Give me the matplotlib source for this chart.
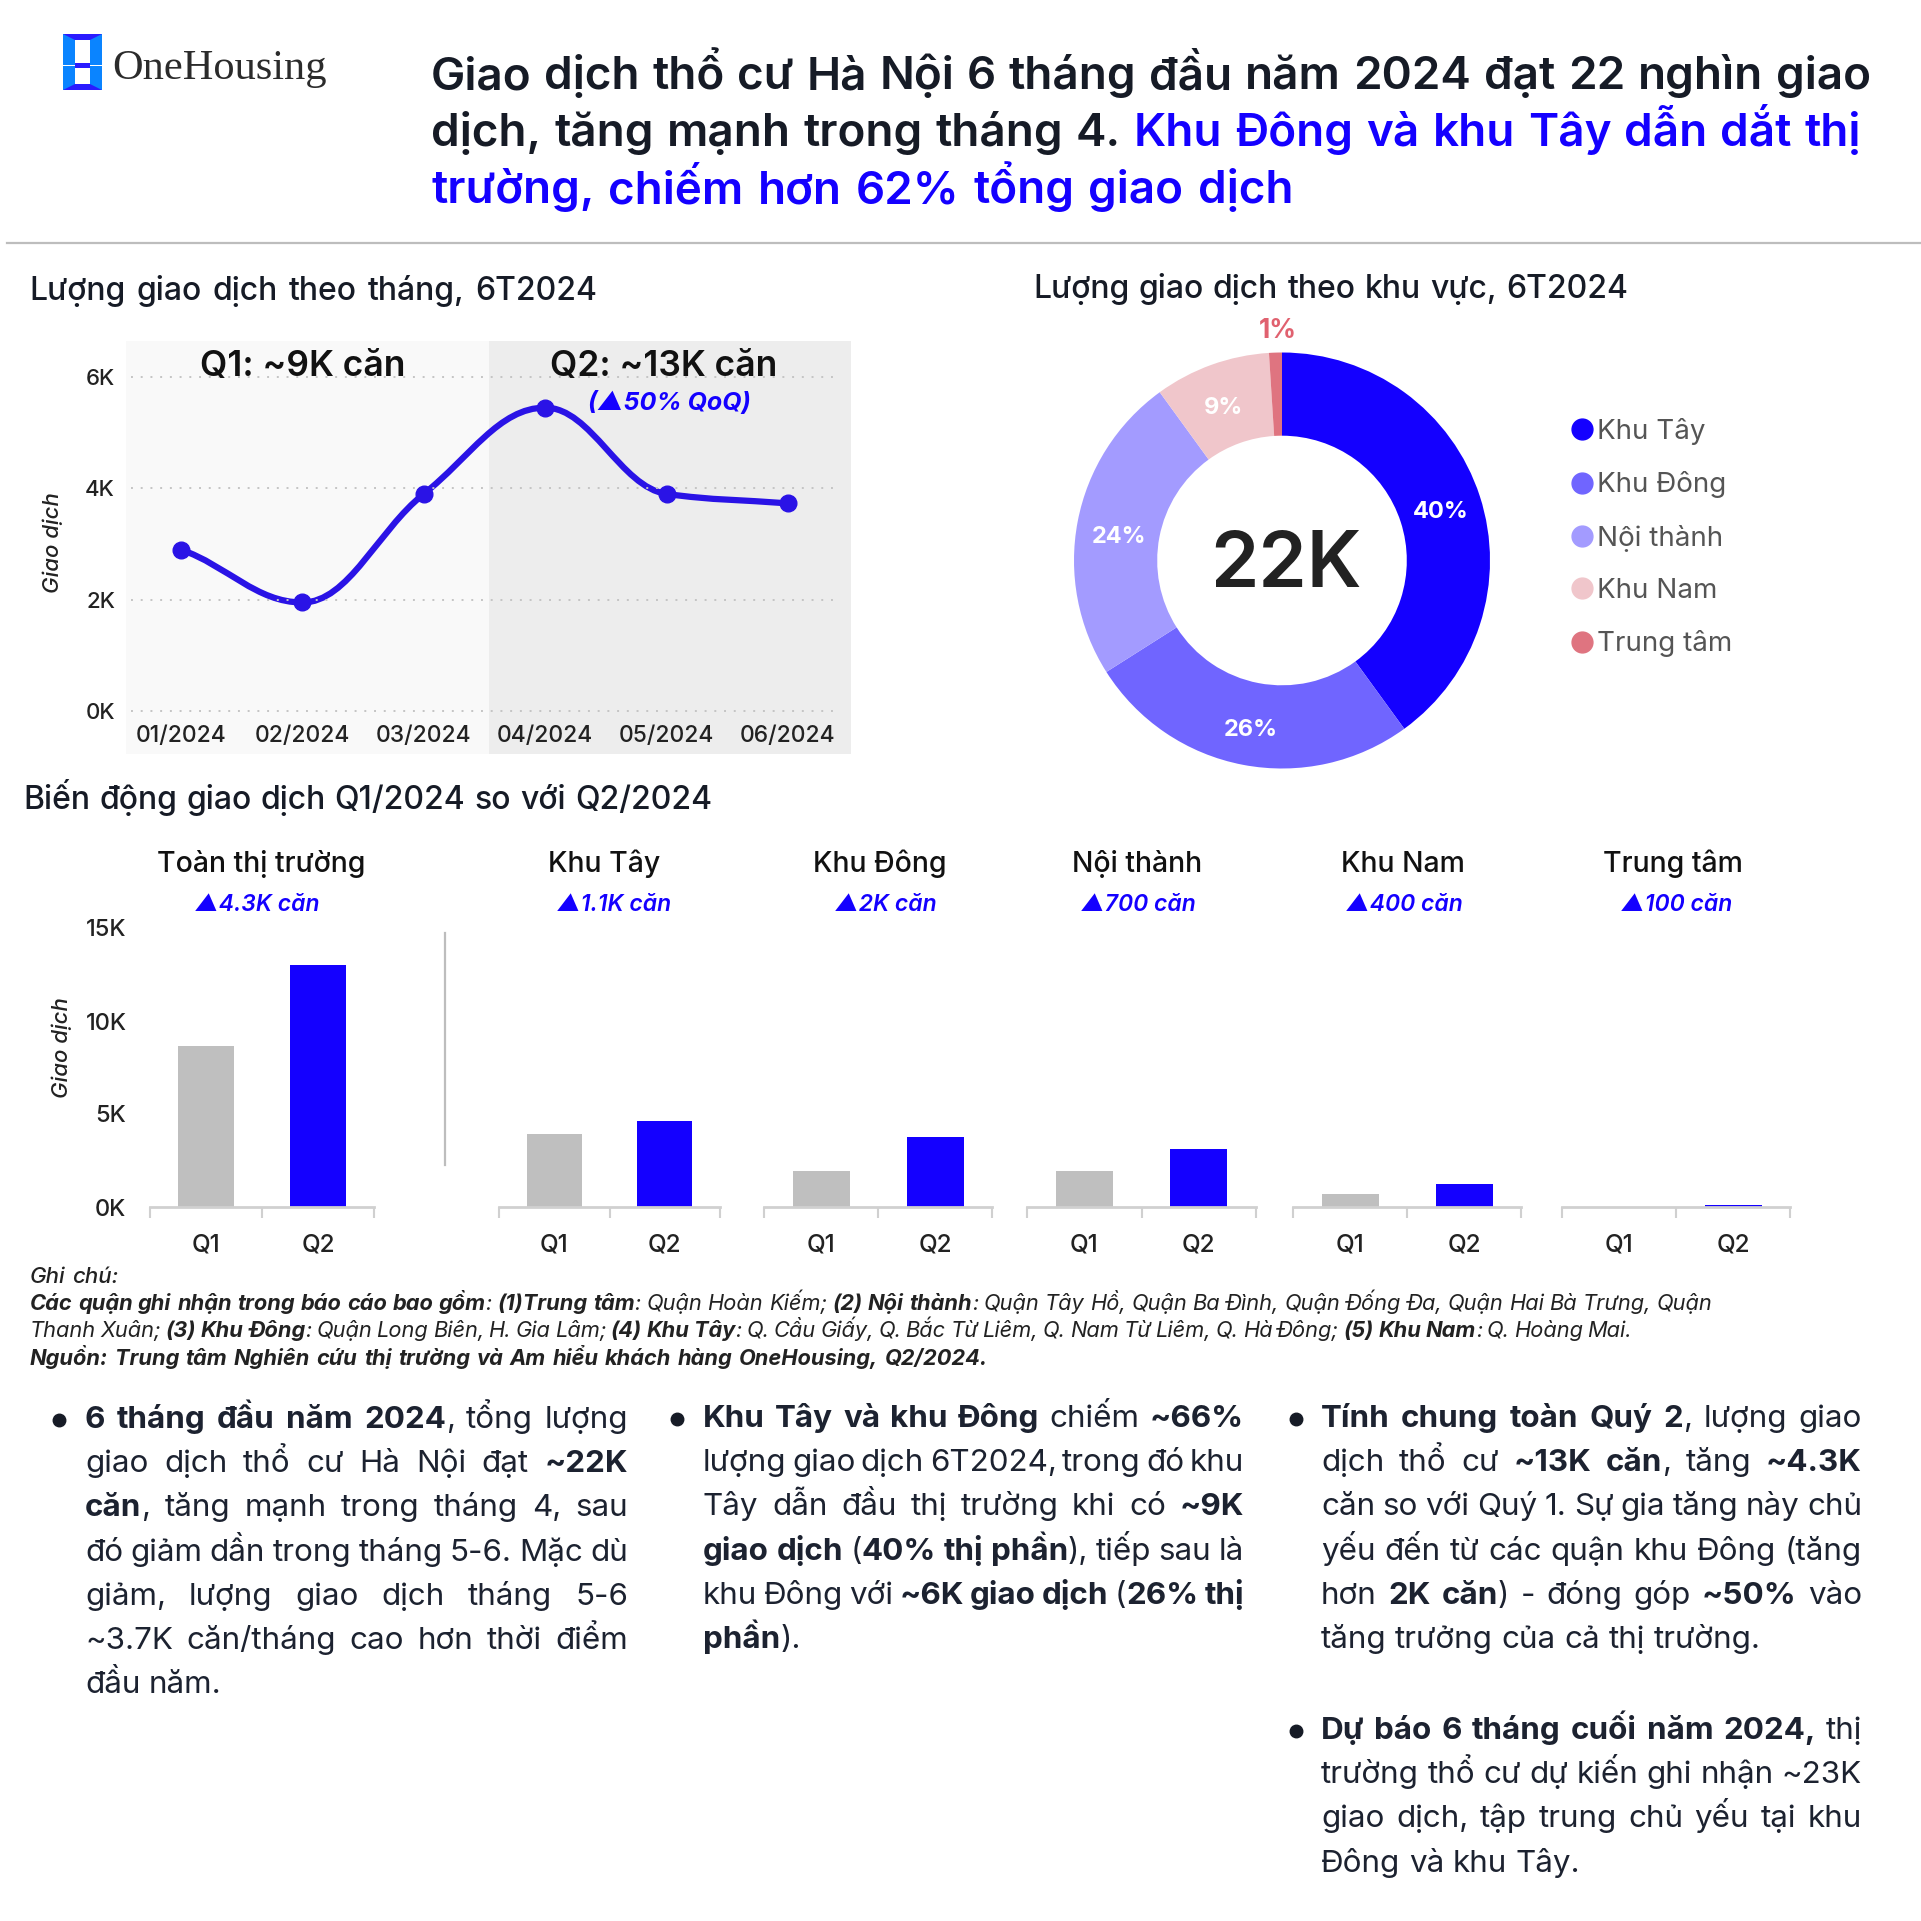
import matplotlib
matplotlib.use("Agg")
import matplotlib.pyplot as plt
from matplotlib.lines import Line2D
from matplotlib.patches import Polygon, Rectangle, PathPatch
from matplotlib.path import Path

FONT = ["Inter", "Noto Sans", "DejaVu Sans"]
plt.rcParams["font.family"] = FONT

INK = "#161b26"
BLUE = "#1400ff"
GREY_BAR = "#bfbfbf"

# data
months = ["01/2024", "02/2024", "03/2024", "04/2024", "05/2024", "06/2024"]
monthly = [2.9, 1.95, 3.9, 5.45, 3.9, 3.73]
month_ticks = [0, 2, 4, 6]

regions = ["Khu Tây", "Khu Đông", "Nội thành", "Khu Nam", "Trung tâm"]
region_share = [40, 26, 24, 9, 1]
region_colors = [BLUE, "#7065ff", "#a39bff", "#f0c6cb", "#df7480"]

groups = ["Toàn thị trường", "Khu Tây", "Khu Đông", "Nội thành", "Khu Nam", "Trung tâm"]
deltas = ["▲4.3K căn", "▲1.1K căn", "▲2K căn", "▲700 căn", "▲400 căn", "▲100 căn"]
q1_values = [8.65, 3.9, 1.95, 1.95, 0.7, 0.0]
q2_values = [13.0, 4.6, 3.75, 3.1, 1.25, 0.13]
bar_ticks = [0, 5, 10, 15]

title_lines = [
    "Giao dịch thổ cư Hà Nội 6 tháng đầu năm 2024 đạt 22 nghìn giao",
    "dịch, tăng mạnh trong tháng 4. **Khu Đông và khu Tây dẫn dắt thị**",
    "**trường, chiếm hơn 62% tổng giao dịch**",
]
note_lines = [
    "**Các quận ghi nhận trong báo cáo bao gồm**: **(1)Trung tâm**: Quận Hoàn Kiếm; **(2) Nội thành**: Quận Tây Hồ, Quận Ba Đình, Quận Đống Đa, Quận Hai Bà Trưng, Quận",
    "Thanh Xuân; **(3) Khu Đông**: Quận Long Biên, H. Gia Lâm; **(4) Khu Tây**: Q. Cầu Giấy, Q. Bắc Từ Liêm, Q. Nam Từ Liêm, Q. Hà Đông; **(5) Khu Nam**: Q. Hoàng Mai.",
    "**Nguồn: Trung tâm Nghiên cứu thị trường và Am hiểu khách hàng OneHousing, Q2/2024.**",
]
col1 = [
    "**6 tháng đầu năm 2024**, tổng lượng",
    "giao dịch thổ cư Hà Nội đạt **~22K**",
    "**căn**, tăng mạnh trong tháng 4, sau",
    "đó giảm dần trong tháng 5-6. Mặc dù",
    "giảm, lượng giao dịch tháng 5-6",
    "~3.7K căn/tháng cao hơn thời điểm",
    "đầu năm.",
]
col2 = [
    "**Khu Tây và khu Đông** chiếm **~66%**",
    "lượng giao dịch 6T2024, trong đó khu",
    "Tây dẫn đầu thị trường khi có **~9K**",
    "**giao dịch** (**40% thị phần**), tiếp sau là",
    "khu Đông với **~6K giao dịch** (**26% thị**",
    "**phần**).",
]
col3a = [
    "**Tính chung toàn Quý 2**, lượng giao",
    "dịch thổ cư **~13K căn**, tăng **~4.3K**",
    "căn so với Quý 1. Sự gia tăng này chủ",
    "yếu đến từ các quận khu Đông (tăng",
    "hơn **2K căn**) - đóng góp **~50%** vào",
    "tăng trưởng của cả thị trường.",
]
col3b = [
    "**Dự báo 6 tháng cuối năm 2024,** thị",
    "trường thổ cư dự kiến ghi nhận ~23K",
    "giao dịch, tập trung chủ yếu tại khu",
    "Đông và khu Tây.",
]

W = 1921
fig = plt.figure(figsize=(W / 100, W / 100), dpi=100, facecolor="white")


def px_axes(x0, y0, x1, y1):
    # axes from pixel box, y measured from the top
    return fig.add_axes([x0 / W, 1 - y1 / W, (x1 - x0) / W, (y1 - y0) / W])


# overlay in pixel coordinates for the text blocks
ov = px_axes(0, 0, W, W)
ov.set_xlim(0, W)
ov.set_ylim(W, 0)
ov.axis("off")
ov.set_zorder(5)
ov.patch.set_alpha(0)
renderer = fig.canvas.get_renderer()


def word_width(word, size, weight, style):
    t = ov.text(0, 0, word, fontsize=size, fontweight=weight, fontstyle=style)
    w = t.get_window_extent(renderer).width
    t.remove()
    return w


def put_line(x, y, line, size, width=None, color=INK, bold_color=None, reg="normal", bold="bold", style="normal"):
    # ** marks the bold runs, width stretches the spaces to reach that length
    items = []
    gap_next = False
    for i, part in enumerate(line.split("**")):
        is_bold = i % 2 == 1
        for j, word in enumerate(part.split(" ")):
            if j > 0:
                gap_next = True
            if word:
                w = word_width(word, size, bold if is_bold else reg, style)
                items.append((word, is_bold, gap_next, w))
                gap_next = False
    n_gaps = sum(1 for it in items if it[2])
    total = sum(it[3] for it in items)
    gap = size * 0.38
    if width is not None and n_gaps:
        gap = (width - total) / n_gaps
    cx = x
    for word, is_bold, has_gap, w in items:
        if has_gap:
            cx += gap
        ov.text(cx, y, word, fontsize=size, va="baseline", ha="left", fontstyle=style,
                fontweight=bold if is_bold else reg,
                color=(bold_color or color) if is_bold else color)
        cx += w


# header
ov.add_patch(Rectangle((63, 34), 39, 56, color="#0a84ff", lw=0))
ov.add_patch(Polygon([(63, 34), (102, 34), (90, 40), (75, 40)], color="#2a1bff", lw=0))
ov.add_patch(Polygon([(63, 90), (102, 90), (90, 84), (75, 84)], color="#2a1bff", lw=0))
ov.add_patch(Rectangle((75, 40), 15, 23, color="white", lw=0))
ov.add_patch(Rectangle((75, 68), 15, 16, color="white", lw=0))
ov.add_patch(Rectangle((63, 64.5), 39, 1.5, color="white", lw=0))
ov.add_patch(Rectangle((75, 63), 15, 5, color="#2a1bff", lw=0))
ov.text(112, 79, "OneHousing", fontsize=30.5, family="Liberation Serif", color="#2b2b2b", va="baseline")

title_widths = [1440, 1430, 862]
for line, tw, y in zip(title_lines, title_widths, [89, 146, 203]):
    put_line(431, y, line, 33, width=tw, bold_color=BLUE, reg="semibold", bold="semibold")
ov.plot([7, W], [243, 243], color="#bdbdbd", lw=1.6)

# section headings
put_line(29, 300, "Lượng giao dịch theo tháng, 6T2024", 23, width=568, reg="medium")
put_line(1033, 298, "Lượng giao dịch theo khu vực, 6T2024", 23, width=595, reg="medium")
put_line(23, 809, "Biến động giao dịch Q1/2024 so với Q2/2024", 23, width=689, reg="medium")

# monthly line, panel box 126..851 / 341..754
ax = px_axes(126, 341, 851, 754)
ax.set_xlim(-0.453, 5.519)
ax.set_ylim(-0.772, 6.647)
ax.axvspan(-0.453, 2.533, color="#f9f9f9", lw=0)
ax.axvspan(2.533, 5.519, color="#ededed", lw=0)
ax.hlines(month_ticks, -0.41, 5.37, color="#c4c4c4", lw=1.4, linestyles=(0, (1, 4)))
# smooth curve through the points, flat at peaks and no overshoot between them
xs = list(range(len(monthly)))
steps = [monthly[i + 1] - monthly[i] for i in range(len(xs) - 1)]
slopes = [steps[0] * 0.8]
for a, b in zip(steps[:-1], steps[1:]):
    slopes.append(0 if a * b <= 0 else 2 * a * b / (a + b))
slopes.append(steps[-1])
verts = [(xs[0], monthly[0])]
codes = [Path.MOVETO]
for i in range(len(xs) - 1):
    verts += [(xs[i] + 0.38, monthly[i] + slopes[i] * 0.38),
              (xs[i + 1] - 0.38, monthly[i + 1] - slopes[i + 1] * 0.38),
              (xs[i + 1], monthly[i + 1])]
    codes += [Path.CURVE4] * 3
ax.add_patch(PathPatch(Path(verts, codes), fill=False, ec="#2a13e6", lw=4.5, capstyle="round"))
ax.plot(xs, monthly, "o", color="#2a13e6", ms=12, zorder=4)
ax.set_xticks(xs)
ax.set_xticklabels(months, fontsize=16.5, fontweight="medium", color="#222222")
ax.set_yticks(month_ticks)
ax.set_yticklabels([f"{v}K" for v in month_ticks], fontsize=16, fontweight="medium", color="#222222")
ax.tick_params(axis="x", length=0, pad=-21)
ax.tick_params(axis="y", length=0, pad=8)
for s in ax.spines.values():
    s.set_visible(False)
ov.text(302.5, 366, "Q1: ~9K căn", fontsize=25.5, fontweight="semibold", ha="center", va="center", color="#111111")
ov.text(664, 366, "Q2: ~13K căn", fontsize=25.5, fontweight="semibold", ha="center", va="center", color="#111111")
ov.text(669, 403, "(▲50% QoQ)", fontsize=18, fontweight="bold", style="italic", ha="center", va="center", color=BLUE)
ov.text(53, 543, "Giao dịch", fontsize=16, style="italic", fontweight="medium", rotation=90, ha="center", va="center", color="#222222")

# donut
ax = px_axes(1282 - 208, 560.5 - 208, 1282 + 208, 560.5 + 208)
wedges, _, pcts = ax.pie(region_share, colors=region_colors, startangle=90, counterclock=False, radius=1.0,
                         wedgeprops={"width": 0.4, "linewidth": 0}, autopct="%.0f%%", pctdistance=0.8,
                         textprops={"fontsize": 17, "fontweight": "bold", "color": "white"})
ax.set_xlim(-1, 1)
ax.set_ylim(-1, 1)
pcts[0].set_position((pcts[0].get_position()[0], 0.235))
pcts[1].set_position((pcts[1].get_position()[0], -0.815))
pcts[2].set_position((pcts[2].get_position()[0], 0.115))
pcts[3].set_position((-0.28, 0.735))
pcts[4].set_position((-0.02, 1.105))
pcts[4].set_color("#e0616f")
pcts[4].set_fontsize(19)
ax.text(0.02, -0.03, "22K", fontsize=56, fontweight="semibold", color="#222222", ha="center", va="center")

handles = [Line2D([], [], marker="o", ls="", ms=15, color=c) for c in region_colors]
fig.legend(handles, regions, loc="upper left", bbox_to_anchor=(1546 / W, 1 - 404 / W), frameon=False, fontsize=20,
           labelspacing=0.95, handletextpad=-0.28, labelcolor="#555555", handlelength=1.6, borderpad=0)

# quarter bars, one small axes per group
axis_x = [(150, 374), (499, 720), (764, 992), (1027, 1256), (1293, 1521), (1562, 1790)]
title_x = [261, 604, 880, 1137, 1403, 1673]
delta_x = [257, 614, 886, 1138, 1404, 1677]
for i, (x0, x1) in enumerate(axis_x):
    ax = px_axes(x0, 928, x1, 1207)
    ax.bar([0, 1], [q1_values[i], q2_values[i]], width=0.5, color=[GREY_BAR, BLUE])
    ax.set_xlim(-0.5, 1.5)
    ax.set_ylim(0, 15)
    ax.patch.set_alpha(0)
    for s in ["top", "left", "right"]:
        ax.spines[s].set_visible(False)
    ax.spines["bottom"].set_color("#d0d0d0")
    ax.spines["bottom"].set_linewidth(2)
    ax.set_xticks([-0.5, 0.5, 1.5])
    ax.set_xticklabels([])
    ax.set_xticks([0, 1], minor=True)
    ax.set_xticklabels(["Q1", "Q2"], minor=True, fontsize=17.5, fontweight="medium", color="#222222")
    ax.tick_params(axis="x", which="major", length=8, width=1.5, color="#d0d0d0")
    ax.tick_params(axis="x", which="minor", length=0, pad=19)
    if i == 0:
        ax.set_yticks(bar_ticks)
        ax.set_yticklabels([f"{v}K" for v in bar_ticks], fontsize=17, fontweight="medium", color="#222222")
        ax.tick_params(axis="y", length=0, pad=17)
    else:
        ax.set_yticks([])
    ov.text(title_x[i], 864, groups[i], fontsize=20.5, fontweight="medium", ha="center", va="center", color="#111111")
    ov.text(delta_x[i], 905, deltas[i], fontsize=16.5, fontweight="semibold", style="italic", ha="center", va="center", color=BLUE)
ov.plot([445, 445], [933, 1165], color="#bdbdbd", lw=1.6)
ov.text(62, 1048, "Giao dịch", fontsize=16, style="italic", fontweight="medium", rotation=90, ha="center", va="center", color="#222222")

# notes
put_line(30, 1283, "Ghi chú:", 16, style="italic", reg="medium", color="#222222")
note_widths = [1682, 1602, 958]
for line, nw, y in zip(note_lines, note_widths, [1310, 1337, 1365]):
    put_line(30, y, line, 15.7, width=nw, style="italic", reg="normal", bold="bold", color="#222222")

# body columns
BODY = 22.6
PITCH = 44.2


def block(x, y, lines, width, bullet_x):
    ov.plot([bullet_x], [y - 8], "o", color=INK, ms=9)
    for n, line in enumerate(lines):
        w = width if n < len(lines) - 1 else None
        put_line(x, y + n * PITCH, line, BODY, width=w, color="#1c2230", reg="normal", bold="bold")


block(85, 1428, col1, 543, 59)
block(703, 1427, col2, 541, 677)
block(1321, 1427, col3a, 541, 1296)
block(1321, 1739, col3b, 541, 1296)

fig.savefig("out.png", dpi=100)
